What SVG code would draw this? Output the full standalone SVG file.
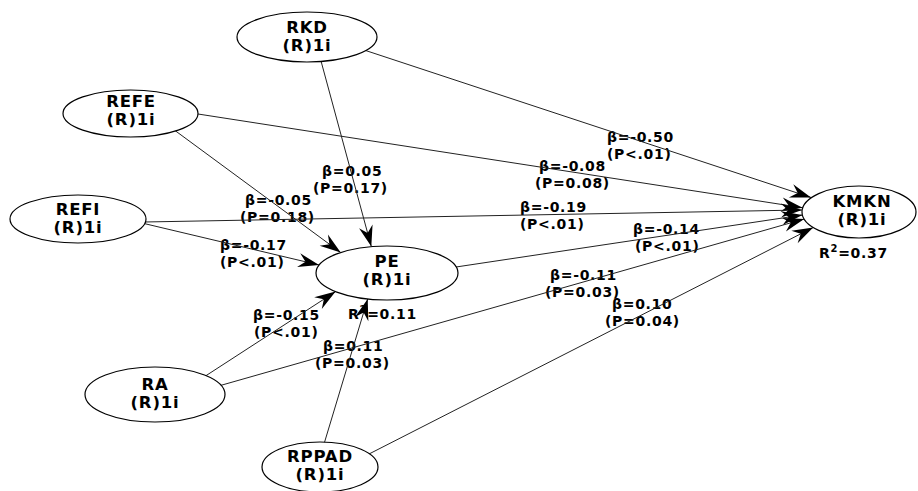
<svg xmlns="http://www.w3.org/2000/svg" width="918" height="491" viewBox="0 0 918 491">
<style>
.node ellipse{fill:#fff;stroke:#000;stroke-width:1.2}
.nt{font-family:"DejaVu Sans",sans-serif;font-weight:bold;font-size:16.5px;letter-spacing:0.8px;text-anchor:middle;fill:#000}
.lb{font-family:"DejaVu Sans",sans-serif;font-weight:bold;font-size:14px;letter-spacing:0.7px;fill:#000}
.cn line{stroke:#222;stroke-width:1;marker-end:url(#arr)}
</style>
<defs>
<marker id="arr" markerUnits="userSpaceOnUse" markerWidth="24" markerHeight="16" viewBox="-22 -8 24 16" refX="0" refY="0" orient="auto">
<path d="M0,0 L-21,-7 L-14,0 L-21,7 Z" fill="#000"/>
</marker>
</defs>
<rect width="918" height="491" fill="#fff"/>
<g id="labels">
<text class="lb" x="607" y="142">β=-0.50</text>
<text class="lb" x="607" y="159">(P&lt;.01)</text>
<text class="lb" x="539" y="171">β=-0.08</text>
<text class="lb" x="535" y="188">(P=0.08)</text>
<text class="lb" x="520" y="212">β=-0.19</text>
<text class="lb" x="520" y="229">(P&lt;.01)</text>
<text class="lb" x="633" y="234">β=-0.14</text>
<text class="lb" x="635" y="251">(P&lt;.01)</text>
<text class="lb" x="550" y="280">β=-0.11</text>
<text class="lb" x="545" y="297">(P=0.03)</text>
<text class="lb" x="612" y="309">β=0.10</text>
<text class="lb" x="605" y="326">(P=0.04)</text>
<text class="lb" x="322" y="176">β=0.05</text>
<text class="lb" x="313" y="193">(P=0.17)</text>
<text class="lb" x="245" y="205">β=-0.05</text>
<text class="lb" x="240" y="222">(P=0.18)</text>
<text class="lb" x="220" y="250">β=-0.17</text>
<text class="lb" x="220" y="267">(P&lt;.01)</text>
<text class="lb" x="253" y="320">β=-0.15</text>
<text class="lb" x="254" y="337">(P&lt;.01)</text>
<text class="lb" x="348" y="319">R<tspan font-size="10" dy="-6">2</tspan><tspan dy="6">=0.11</tspan></text>
<text class="lb" x="323" y="351">β=0.11</text>
<text class="lb" x="315" y="368">(P=0.03)</text>
<text class="lb" x="819" y="258">R<tspan font-size="10" dy="-6">2</tspan><tspan dy="6">=0.37</tspan></text>
</g>
<g id="connectors" class="cn">
<line x1="321" y1="61" x2="371.3" y2="246.6"/>
<line x1="174" y1="129.8" x2="340.7" y2="252.5"/>
<line x1="144" y1="223.5" x2="319.1" y2="265"/>
<line x1="205" y1="376.3" x2="335.6" y2="291.6"/>
<line x1="324.3" y1="443" x2="367.7" y2="299"/>
<line x1="365" y1="50.3" x2="811" y2="197.5"/>
<line x1="196" y1="113.7" x2="802.5" y2="207.7"/>
<line x1="144" y1="222" x2="802" y2="210"/>
<line x1="456" y1="267" x2="802.5" y2="215"/>
<line x1="220" y1="385.6" x2="804.2" y2="219"/>
<line x1="369" y1="454" x2="813.2" y2="227.5"/>
</g>
<g id="RKD" class="node"><ellipse cx="307" cy="37" rx="70" ry="25"/><text class="nt" x="307" y="33">RKD</text><text class="nt" x="307" y="51">(R)1i</text></g>
<g id="REFE" class="node"><ellipse cx="130.5" cy="113.5" rx="67.5" ry="23.5"/><text class="nt" x="131" y="107">REFE</text><text class="nt" x="131" y="125">(R)1i</text></g>
<g id="REFI" class="node"><ellipse cx="78" cy="219" rx="68" ry="24"/><text class="nt" x="78" y="215">REFI</text><text class="nt" x="78" y="233">(R)1i</text></g>
<g id="PE" class="node"><ellipse cx="387" cy="273" rx="71" ry="27"/><text class="nt" x="387" y="267">PE</text><text class="nt" x="387" y="285">(R)1i</text></g>
<g id="RA" class="node"><ellipse cx="155" cy="394.5" rx="70" ry="27.5"/><text class="nt" x="155" y="390">RA</text><text class="nt" x="155" y="408">(R)1i</text></g>
<g id="RPPAD" class="node"><ellipse cx="320" cy="467" rx="58" ry="25"/><text class="nt" x="320" y="462">RPPAD</text><text class="nt" x="320" y="480">(R)1i</text></g>
<g id="KMKN" class="node"><ellipse cx="859" cy="212" rx="57" ry="26"/><text class="nt" x="862" y="207">KMKN</text><text class="nt" x="862" y="225">(R)1i</text></g>
</svg>
